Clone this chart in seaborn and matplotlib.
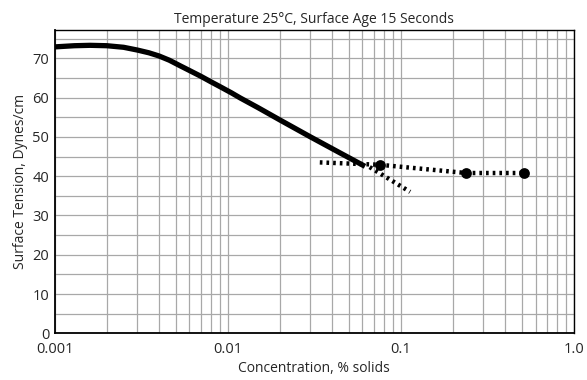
import numpy as np
import pandas as pd
import matplotlib
matplotlib.use("Agg")
import matplotlib.pyplot as plt
import seaborn as sns
from matplotlib.ticker import FixedLocator, FixedFormatter, MultipleLocator, LogLocator, NullFormatter

# --- data ---
# solid curve (below the critical concentration)
solid_conc = [0.001, 0.0013, 0.0016, 0.002, 0.0025, 0.003, 0.0035, 0.004, 0.0046,
              0.0053, 0.006, 0.007, 0.008, 0.009, 0.0105, 0.0118, 0.015, 0.02,
              0.03, 0.045, 0.062]
solid_tension = [72.9, 73.2, 73.3, 73.2, 72.8, 72.1, 71.4, 70.6, 69.5,
                 68.1, 66.9, 65.4, 64.0, 62.8, 61.2, 59.9, 57.4, 54.3,
                 50.0, 45.8, 42.5]

# dotted line through the measured points (above CMC)
flat_conc = [0.034, 0.0754, 0.238, 0.516]
flat_tension = [43.5, 42.9, 40.8, 40.8]

# dotted extension of the falling curve
ext_conc = [0.066, 0.113]
ext_tension = [42.3, 36.0]

# measured points
point_conc = [0.0754, 0.238, 0.516]
point_tension = [42.9, 40.8, 40.8]

x_ticks = [0.001, 0.01, 0.1, 1.0]
x_tick_labels = ["0.001", "0.01", "0.1", "1.0"]

solid = pd.DataFrame({"conc": solid_conc, "tension": solid_tension})
flat = pd.DataFrame({"conc": flat_conc, "tension": flat_tension})
ext = pd.DataFrame({"conc": ext_conc, "tension": ext_tension})
points = pd.DataFrame({"conc": point_conc, "tension": point_tension})

sns.set_style("white")
plt.rcParams["font.family"] = ["Open Sans", "DejaVu Sans"]

fig = plt.figure(figsize=(5.87, 3.80), dpi=100)
ax = fig.add_axes([54.7 / 587, 1 - 333.3 / 380, (574 - 54.7) / 587, (333.3 - 30) / 380])

ax.set_xscale("log")
ax.set_xlim(0.001, 1.0)
ax.set_ylim(0, 77.2)

dots = (0, (0.6, 0.9))
sns.lineplot(data=solid, x="conc", y="tension", ax=ax, color="black", linewidth=3.8,
             solid_capstyle="butt", solid_joinstyle="round", zorder=3)
sns.lineplot(data=flat, x="conc", y="tension", ax=ax, color="black", linewidth=3.2,
             linestyle=dots, zorder=3)
sns.lineplot(data=ext, x="conc", y="tension", ax=ax, color="black", linewidth=3.2,
             linestyle=dots, zorder=3)
sns.scatterplot(data=points, x="conc", y="tension", ax=ax, color="black", s=60,
                edgecolor="black", linewidth=0, zorder=4)

# grid: every decade subdivision on x, every 5 on y
ax.xaxis.set_major_locator(FixedLocator(x_ticks))
ax.xaxis.set_major_formatter(FixedFormatter(x_tick_labels))
ax.xaxis.set_minor_locator(LogLocator(base=10, subs=np.arange(2, 10)))
ax.xaxis.set_minor_formatter(NullFormatter())
ax.yaxis.set_major_locator(MultipleLocator(10))
ax.yaxis.set_minor_locator(MultipleLocator(5))
ax.grid(True, which="both", color="#a8a8a8", linewidth=0.9)
ax.set_axisbelow(True)

ax.tick_params(axis="x", which="both", length=0, labelsize=10.5, pad=6)
ax.tick_params(axis="y", which="both", length=3, width=0.8, color="#555555",
               direction="out", labelsize=10.5, pad=1)

for s in ax.spines.values():
    s.set_color("black")
    s.set_linewidth(1.0)
ax.spines["left"].set_linewidth(1.3)
ax.spines["bottom"].set_linewidth(1.3)

ax.set_title("Temperature 25°C, Surface Age 15 Seconds", fontsize=10, pad=5)
ax.set_xlabel("Concentration, % solids", fontsize=10, labelpad=3)
ax.set_ylabel("Surface Tension, Dynes/cm", fontsize=10, labelpad=3)

fig.savefig("out.png", dpi=100)
